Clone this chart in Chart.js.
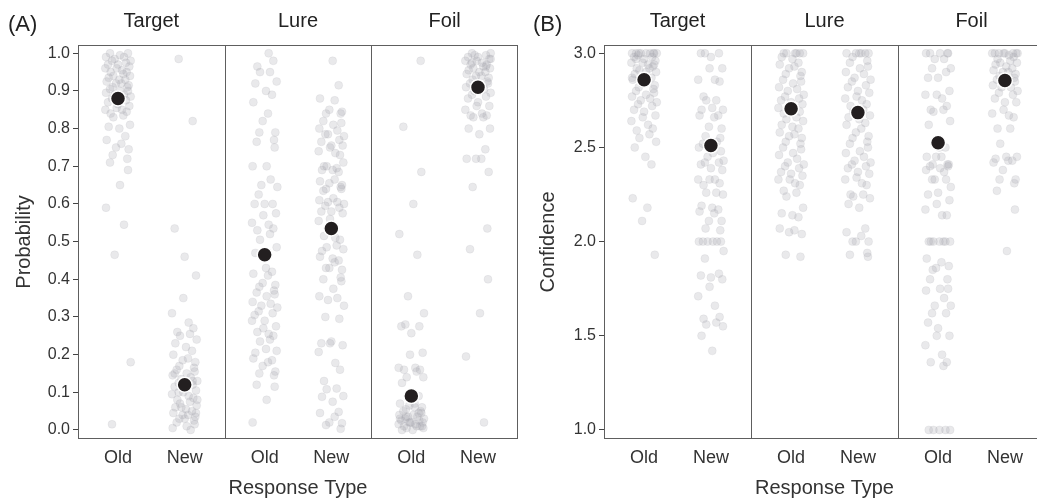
<!DOCTYPE html>
<html lang="en">
<head>
<meta charset="UTF-8">
<title>Response Type by Condition</title>
<script src="https://cdn.jsdelivr.net/npm/chart.js"></script>
<style>
    body { margin: 0; background: #fff; overflow: hidden; }
    .panel { position: absolute; top: 0; }
    #panelA { left: 0; }
    #panelB { left: 520px; }
</style>
</head>
<body>

<div class="panel" id="panelA"><canvas id="chartA" width="527" height="502"></canvas></div>
<div class="panel" id="panelB"><canvas id="chartB" width="534" height="502"></canvas></div>

<script>
// facets and response categories
const facets = ["Target", "Lure", "Foil"];
const responses = ["Old", "New"];

// y tick labels
const probTicks = [0.0, 0.1, 0.2, 0.3, 0.4, 0.5, 0.6, 0.7, 0.8, 0.9, 1.0];
const confTicks = [1.0, 1.5, 2.0, 2.5, 3.0];

// means (big black dots), order: Target Old/New, Lure Old/New, Foil Old/New
const probMeans = [0.88, 0.12, 0.465, 0.535, 0.09, 0.91];
const confMeans = [2.86, 2.51, 2.705, 2.685, 2.525, 2.855];

// horizontal jitter offsets (category units)
const jitter = [-0.12, 0.15, 0.03, -0.18, 0.09, -0.05, 0.19, -0.09, 0.12, -0.15, 0.0, 0.17, -0.02, -0.19, 0.06,
    0.13, -0.11, 0.08, -0.07, 0.18, -0.14, 0.02, 0.11, -0.17, 0.05, -0.03, 0.16, -0.08, 0.14];

// (A) probability, individual points
const probTargetOld = [1.0, 1.0, 0.995, 0.99, 0.99, 0.985, 0.98, 0.98, 0.975, 0.97, 0.97, 0.965, 0.96, 0.96, 0.955, 0.95,
    0.95, 0.945, 0.94, 0.94, 0.935, 0.93, 0.93, 0.925, 0.92, 0.92, 0.915, 0.91, 0.91, 0.905, 0.9, 0.9, 0.895, 0.89, 0.89,
    0.885, 0.88, 0.875, 0.87, 0.865, 0.86, 0.855, 0.85, 0.85, 0.845, 0.84, 0.835, 0.83, 0.81, 0.805, 0.8, 0.78, 0.77,
    0.76, 0.75, 0.745, 0.73, 0.72, 0.71, 0.69, 0.65, 0.59, 0.545, 0.465, 0.18, 0.015];
const probTargetNew = [0.985, 0.82, 0.535, 0.46, 0.41, 0.35, 0.31, 0.285, 0.27, 0.26, 0.255, 0.25, 0.24, 0.23, 0.22,
    0.21, 0.2, 0.19, 0.185, 0.18, 0.17, 0.165, 0.16, 0.155, 0.15, 0.145, 0.14, 0.135, 0.13, 0.125, 0.12, 0.115, 0.11,
    0.105, 0.1, 0.095, 0.09, 0.085, 0.08, 0.075, 0.07, 0.065, 0.06, 0.055, 0.05, 0.045, 0.04, 0.04, 0.035, 0.03, 0.025,
    0.02, 0.015, 0.01, 0.005, 0.0, 0.06, 0.08, 0.1, 0.13, 0.15, 0.03, 0.045];
const probLureOld = [1.0, 0.98, 0.965, 0.95, 0.95, 0.925, 0.92, 0.9, 0.89, 0.87, 0.84, 0.82, 0.79, 0.79, 0.77, 0.765,
    0.75, 0.7, 0.7, 0.665, 0.65, 0.645, 0.625, 0.6, 0.6, 0.6, 0.575, 0.57, 0.55, 0.545, 0.535, 0.53, 0.52, 0.505, 0.485,
    0.47, 0.43, 0.42, 0.415, 0.41, 0.39, 0.385, 0.38, 0.37, 0.365, 0.36, 0.355, 0.34, 0.335, 0.33, 0.325, 0.315, 0.31,
    0.305, 0.29, 0.275, 0.27, 0.29, 0.255, 0.25, 0.26, 0.24, 0.235, 0.21, 0.205, 0.215, 0.185, 0.19, 0.18, 0.17, 0.155,
    0.15, 0.145, 0.12, 0.115, 0.08, 0.02];
const probLureNew = [0.98, 0.915, 0.88, 0.875, 0.85, 0.845, 0.84, 0.84, 0.82, 0.815, 0.81, 0.8, 0.795, 0.785, 0.78,
    0.785, 0.77, 0.765, 0.755, 0.755, 0.75, 0.74, 0.735, 0.73, 0.7, 0.695, 0.7, 0.71, 0.69, 0.69, 0.685, 0.66, 0.665,
    0.655, 0.65, 0.64, 0.645, 0.635, 0.64, 0.615, 0.61, 0.605, 0.605, 0.6, 0.595, 0.59, 0.58, 0.58, 0.575, 0.56, 0.555,
    0.51, 0.505, 0.515, 0.49, 0.485, 0.48, 0.475, 0.455, 0.45, 0.46, 0.445, 0.43, 0.425, 0.43, 0.405, 0.4, 0.395, 0.375,
    0.355, 0.35, 0.345, 0.33, 0.3, 0.295, 0.23, 0.235, 0.225, 0.23, 0.207, 0.178, 0.16, 0.13, 0.11, 0.108, 0.09, 0.088,
    0.075, 0.048, 0.045, 0.035, 0.02, 0.018, 0.013, 0.003];
const probFoilOld = [0.98, 0.805, 0.685, 0.6, 0.52, 0.465, 0.355, 0.31, 0.28, 0.275, 0.275, 0.257, 0.205, 0.2, 0.165,
    0.165, 0.16, 0.16, 0.155, 0.14, 0.14, 0.125, 0.09, 0.09, 0.07, 0.07, 0.065, 0.06, 0.055, 0.05, 0.05, 0.045, 0.04,
    0.04, 0.035, 0.035, 0.03, 0.03, 0.025, 0.025, 0.02, 0.02, 0.02, 0.015, 0.015, 0.01, 0.01, 0.01, 0.005, 0.005, 0.0,
    0.0, 0.045, 0.03, 0.06, 0.02, 0.01, 0.035];
const probFoilNew = [1.0, 1.0, 0.995, 0.99, 0.99, 0.985, 0.98, 0.98, 0.975, 0.97, 0.97, 0.965, 0.96, 0.96, 0.955, 0.95,
    0.95, 0.945, 0.94, 0.94, 0.935, 0.93, 0.925, 0.92, 0.92, 0.915, 0.91, 0.905, 0.9, 0.895, 0.89, 0.885, 0.88, 0.87,
    0.86, 0.86, 0.85, 0.84, 0.835, 0.835, 0.83, 0.83, 0.8, 0.8, 0.785, 0.745, 0.72, 0.72, 0.72, 0.685, 0.645, 0.535,
    0.48, 0.4, 0.31, 0.195, 0.02, 0.995, 0.985, 0.975, 0.965];

// (B) confidence, individual points
const confTargetOld = [3.0, 3.0, 3.0, 3.0, 3.0, 3.0, 3.0, 2.99, 2.98, 2.98, 2.97, 2.96, 2.95, 2.95, 2.94, 2.93, 2.92,
    2.92, 2.91, 2.9, 2.89, 2.88, 2.87, 2.86, 2.85, 2.84, 2.83, 2.82, 2.81, 2.8, 2.79, 2.78, 2.77, 2.76, 2.75, 2.74, 2.73,
    2.72, 2.7, 2.69, 2.67, 2.66, 2.64, 2.62, 2.6, 2.59, 2.57, 2.55, 2.53, 2.5, 2.45, 2.41, 2.23, 2.18, 2.11, 1.93, 3.0,
    3.0, 2.97, 2.94, 2.9, 2.87];
const confTargetNew = [3.0, 3.0, 3.0, 2.98, 2.92, 2.92, 2.86, 2.86, 2.85, 2.77, 2.75, 2.75, 2.7, 2.7, 2.71, 2.67, 2.67,
    2.66, 2.61, 2.6, 2.56, 2.55, 2.52, 2.48, 2.47, 2.5, 2.53, 2.45, 2.43, 2.42, 2.42, 2.41, 2.39, 2.38, 2.33, 2.33, 2.33,
    2.31, 2.3, 2.26, 2.26, 2.25, 2.19, 2.18, 2.17, 2.16, 2.15, 2.11, 2.11, 2.07, 2.06, 2.0, 2.0, 2.0, 2.0, 2.0, 2.0,
    1.95, 1.91, 1.83, 1.82, 1.81, 1.8, 1.76, 1.71, 1.66, 1.6, 1.59, 1.57, 1.56, 1.55, 1.5, 1.42];
const confLureOld = [3.0, 3.0, 3.0, 3.0, 3.0, 3.0, 2.98, 2.97, 2.95, 2.94, 2.93, 2.92, 2.9, 2.89, 2.88, 2.86, 2.85,
    2.84, 2.82, 2.81, 2.8, 2.78, 2.77, 2.76, 2.75, 2.74, 2.73, 2.72, 2.71, 2.7, 2.69, 2.68, 2.66, 2.65, 2.64, 2.62,
    2.61, 2.6, 2.58, 2.57, 2.56, 2.55, 2.53, 2.52, 2.5, 2.49, 2.47, 2.46, 2.44, 2.42, 2.41, 2.4, 2.39, 2.37, 2.36, 2.35,
    2.33, 2.33, 2.31, 2.3, 2.27, 2.26, 2.24, 2.18, 2.15, 2.14, 2.13, 2.07, 2.06, 2.05, 2.04, 1.93, 1.92];
const confLureNew = [3.0, 3.0, 3.0, 3.0, 3.0, 3.0, 2.98, 2.96, 2.95, 2.93, 2.92, 2.9, 2.89, 2.87, 2.86, 2.85, 2.83,
    2.82, 2.8, 2.79, 2.77, 2.76, 2.75, 2.73, 2.72, 2.7, 2.69, 2.67, 2.66, 2.65, 2.63, 2.62, 2.6, 2.58, 2.56, 2.55, 2.53,
    2.52, 2.5, 2.48, 2.47, 2.45, 2.43, 2.42, 2.41, 2.4, 2.39, 2.37, 2.36, 2.34, 2.33, 2.31, 2.3, 2.25, 2.25, 2.24, 2.23,
    2.2, 2.18, 2.07, 2.05, 2.03, 2.0, 2.0, 2.0, 1.94, 1.93, 1.92];
const confFoilOld = [3.0, 3.0, 3.0, 3.0, 3.0, 2.97, 2.97, 2.92, 2.92, 2.9, 2.87, 2.87, 2.8, 2.78, 2.78, 2.76, 2.72,
    2.7, 2.7, 2.69, 2.64, 2.62, 2.5, 2.5, 2.45, 2.45, 2.45, 2.41, 2.41, 2.41, 2.4, 2.4, 2.39, 2.38, 2.37, 2.33, 2.29,
    2.33, 2.33, 2.25, 2.26, 2.22, 2.2, 2.17, 2.14, 2.14, 2.0, 2.0, 2.0, 2.0, 2.0, 2.0, 2.0, 1.91, 1.89, 1.86, 1.87,
    1.85, 1.8, 1.8, 1.75, 1.75, 1.74, 1.7, 1.66, 1.66, 1.62, 1.62, 1.57, 1.54, 1.5, 1.5, 1.45, 1.4, 1.36, 1.36, 1.34,
    1.0, 1.0, 1.0, 1.0, 1.0];
const confFoilNew = [3.0, 3.0, 3.0, 3.0, 3.0, 3.0, 3.0, 3.0, 2.99, 2.98, 2.97, 2.96, 2.95, 2.95, 2.94, 2.93, 2.92,
    2.91, 2.9, 2.9, 2.89, 2.88, 2.87, 2.86, 2.85, 2.84, 2.83, 2.82, 2.82, 2.8, 2.79, 2.78, 2.76, 2.74, 2.74, 2.7, 2.68,
    2.67, 2.66, 2.6, 2.6, 2.52, 2.45, 2.44, 2.45, 2.43, 2.42, 2.43, 2.38, 2.33, 2.33, 2.31, 2.27, 2.17, 1.95];

const probGroups = [probTargetOld, probTargetNew, probLureOld, probLureNew, probFoilOld, probFoilNew];
const confGroups = [confTargetOld, confTargetNew, confLureOld, confLureNew, confFoilOld, confFoilNew];

// x layout: each facet spans 2.2 units, categories at 1 and 2 inside it
const FACET_W = 2.2;
const xPos = i => Math.floor(i / 2) * FACET_W + (i % 2) + 1;
const xTicks = [0, 1, 2, 3, 4, 5].map(xPos);
const facetCenters = facets.map((f, i) => i * FACET_W + 1.5);
const dividers = [1, 2].map(i => i * FACET_W + 0.4);

const FONT = '"Liberation Sans", Arial, sans-serif';
const TXT = '#333333';

const frame = {
    id: 'frame',
    beforeDatasetsDraw(chart, args, opts) {
        const { ctx, chartArea: a, scales: { x } } = chart;
        ctx.save();
        ctx.strokeStyle = '#5e5e5e';
        ctx.lineWidth = 1;
        ctx.strokeRect(a.left + 0.5, a.top + 0.5, a.right - a.left - 1, a.bottom - a.top - 1);
        dividers.forEach(v => {
            const px = Math.round(x.getPixelForValue(v)) + 0.5;
            ctx.beginPath();
            ctx.moveTo(px, a.top);
            ctx.lineTo(px, a.bottom);
            ctx.stroke();
        });
        ctx.fillStyle = '#222';
        ctx.font = '22px ' + FONT;
        ctx.textBaseline = 'alphabetic';
        ctx.fillText(opts.letter, opts.lx, 31);
        ctx.restore();
    }
};

// drop the label overhang padding Chart.js adds to horizontal axes
const noSidePad = s => { s.paddingLeft = 0; s.paddingRight = 0; };

function makeChart(id, groups, means, yTicks, yMin, yMax, yTitle, opt) {
    const points = [];
    groups.forEach((vals, g) => {
        vals.forEach((v, i) => points.push({ x: xPos(g) + jitter[(i + g * 7) % jitter.length], y: v }));
    });
    const meanPts = means.map((v, g) => ({ x: xPos(g), y: v }));

    return new Chart(document.getElementById(id), {
        type: 'scatter',
        data: {
            datasets: [
                {
                    data: meanPts,
                    order: 0,
                    pointRadius: 7.5,
                    pointBackgroundColor: '#231f20',
                    pointBorderColor: '#ffffff',
                    pointBorderWidth: 1.5
                },
                {
                    data: points,
                    order: 1,
                    pointRadius: 4,
                    pointBackgroundColor: 'rgba(165,165,172,0.24)',
                    pointBorderColor: 'rgba(160,160,168,0.18)',
                    pointBorderWidth: 0.7
                }
            ]
        },
        options: {
            responsive: false,
            animation: false,
            events: [],
            layout: { padding: 0 },
            plugins: {
                legend: { display: false },
                tooltip: { enabled: false },
                frame: { letter: opt.letter, lx: opt.lx }
            },
            scales: {
                x: {
                    type: 'linear',
                    position: 'bottom',
                    min: 0.4,
                    max: 3 * FACET_W + 0.4,
                    afterBuildTicks: s => { s.ticks = xTicks.map(v => ({ value: v })); },
                    afterFit: s => { s.height = 63; noSidePad(s); },
                    grid: { display: false, drawTicks: false },
                    border: { display: false },
                    ticks: {
                        autoSkip: false, maxRotation: 0, padding: 8,
                        color: TXT, font: { family: FONT, size: 18 },
                        callback: (v, i) => responses[i % 2]
                    },
                    title: {
                        display: true, text: 'Response Type', color: TXT,
                        font: { family: FONT, size: 20 }, padding: { top: 0, bottom: 2 }
                    }
                },
                facet: {
                    type: 'linear',
                    position: 'top',
                    min: 0.4,
                    max: 3 * FACET_W + 0.4,
                    afterBuildTicks: s => { s.ticks = facetCenters.map(v => ({ value: v })); },
                    afterFit: s => { s.height = 45; noSidePad(s); },
                    grid: { display: false, drawTicks: false },
                    border: { display: false },
                    ticks: {
                        autoSkip: false, maxRotation: 0, padding: 12,
                        color: '#222', font: { family: FONT, size: 20 },
                        callback: (v, i) => facets[i]
                    }
                },
                y: {
                    min: yMin,
                    max: yMax,
                    afterBuildTicks: s => { s.ticks = yTicks.map(v => ({ value: v })); },
                    afterFit: s => { s.width = opt.yWidth; s.paddingTop = 0; s.paddingBottom = 0; },
                    grid: { display: true, drawOnChartArea: false, drawTicks: true, tickLength: 5, color: '#444' },
                    border: { display: false },
                    ticks: {
                        padding: 3, color: TXT, font: { family: FONT, size: 16 },
                        callback: v => v.toFixed(1)
                    },
                    title: {
                        display: true, text: yTitle, color: TXT,
                        font: { family: FONT, size: 20 }, padding: { top: opt.titlePad, bottom: 0 }
                    }
                }
            }
        },
        plugins: [frame]
    });
}

makeChart('chartA', probGroups, probMeans, probTicks, -0.024, 1.022, 'Probability',
    { yWidth: 78, titlePad: 12, letter: '(A)', lx: 8 });
makeChart('chartB', confGroups, confMeans, confTicks, 0.952, 3.044, 'Confidence',
    { yWidth: 84, titlePad: 16, letter: '(B)', lx: 13 });
</script>

</body>
</html>
